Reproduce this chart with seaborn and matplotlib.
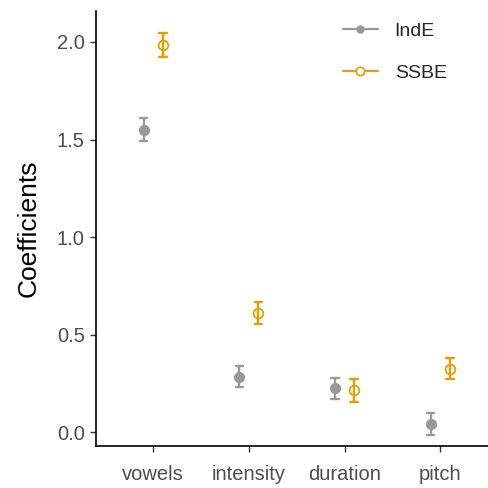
import matplotlib

matplotlib.use("Agg")

import matplotlib.pyplot as plt
from matplotlib.lines import Line2D
import pandas as pd
import seaborn as sns

# values
features = ["vowels", "intensity", "duration", "pitch"]
groups = ["IndE", "SSBE"]
inde_coef = [1.55, 0.285, 0.225, 0.045]
inde_err = [0.058, 0.055, 0.056, 0.056]
ssbe_coef = [1.985, 0.61, 0.215, 0.327]
ssbe_err = [0.06, 0.056, 0.058, 0.056]
y_ticks = [0.0, 0.5, 1.0, 1.5, 2.0]

palette = {"IndE": "#999999", "SSBE": "#E69F00"}

# three rows per point (centre, low, high) so the min-max interval gives the error bar
rows = []
for group, coefs, errs in [("IndE", inde_coef, inde_err), ("SSBE", ssbe_coef, ssbe_err)]:
    for feature, coef, err in zip(features, coefs, errs):
        for value in (coef, coef - err, coef + err):
            rows.append({"feature": feature, "group": group, "coef": value})
df = pd.DataFrame(rows)

sns.set_theme(style="ticks")
plt.rcParams["font.family"] = ["Liberation Sans", "DejaVu Sans"]

fig = plt.figure(figsize=(4.89, 4.88), dpi=100)
ax = fig.add_axes([0.196, 0.086, 0.804, 0.892])

sns.pointplot(
    data=df,
    x="feature",
    y="coef",
    hue="group",
    order=features,
    hue_order=groups,
    palette=palette,
    estimator="mean",
    errorbar=("pi", 100),
    dodge=0.2,
    linestyle="none",
    markers="o",
    markersize=6,
    capsize=0.08,
    err_kws={"linewidth": 1.7},
    legend=False,
    ax=ax,
)

# open circles for SSBE
for line in ax.lines:
    if line.get_marker() == "o" and matplotlib.colors.same_color(line.get_color(), palette["SSBE"]):
        line.set_markerfacecolor("white")
        line.set_markeredgewidth(1.3)
        line.set_markersize(7)

ax.set_xlim(-0.6, 3.51)
ax.set_ylim(-0.07, 2.16)
ax.set_yticks(y_ticks)
ax.set_yticklabels([f"{t:.1f}" for t in y_ticks])
ax.set_xlabel("")
ax.set_ylabel("Coefficients", fontsize=19, color="black", labelpad=12)
ax.tick_params(axis="both", labelsize=14.5, labelcolor="#4d4d4d", length=4.5, width=1, color="#333333")
ax.tick_params(axis="x", pad=9)
for side in ["left", "bottom"]:
    ax.spines[side].set_linewidth(1.2)
    ax.spines[side].set_color("black")
sns.despine(ax=ax)

handles = [
    Line2D([], [], color=palette["IndE"], marker="o", markersize=5, linewidth=1.6),
    Line2D([], [], color=palette["SSBE"], marker="o", markersize=6, linewidth=1.6,
           markerfacecolor="white", markeredgewidth=1.2),
]
ax.legend(
    handles,
    groups,
    loc="upper left",
    bbox_to_anchor=(0.583, 1.014),
    frameon=False,
    fontsize=14,
    labelspacing=1.25,
    handlelength=1.8,
    handletextpad=0.88,
)

fig.savefig("out.png", dpi=100)
